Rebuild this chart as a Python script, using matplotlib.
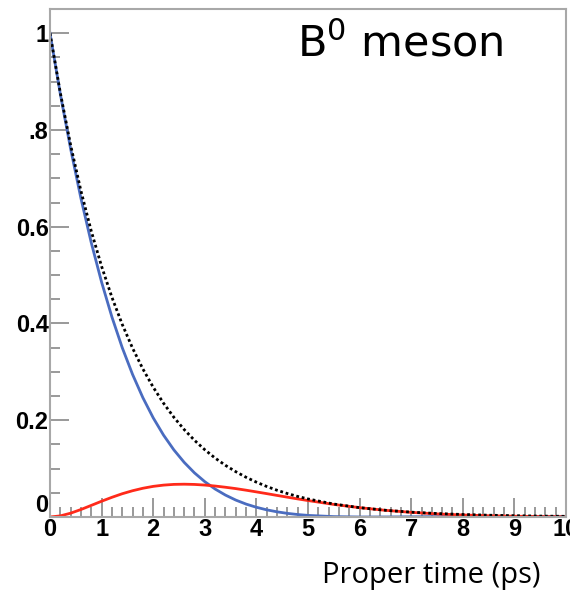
import numpy as np
import matplotlib.pyplot as plt
from matplotlib.ticker import MultipleLocator

# proper time (ps)
t = [0, 0.2, 0.4, 0.6, 0.8, 1.0, 1.2, 1.4, 1.6, 1.8, 2.0, 2.2, 2.4, 2.6, 2.8,
     3.0, 3.2, 3.4, 3.6, 3.8, 4.0, 4.2, 4.4, 4.6, 4.8, 5.0, 5.5, 6.0, 6.5,
     7.0, 7.5, 8.0, 8.5, 9.0, 9.5, 10.0]

# total decay (dotted black)
total = [1.0, 0.8767, 0.7686, 0.6738, 0.5908, 0.5180, 0.4541, 0.3981, 0.3490,
         0.3060, 0.2683, 0.2352, 0.2062, 0.1808, 0.1585, 0.1390, 0.1218, 0.1068,
         0.0937, 0.0821, 0.0720, 0.0631, 0.0553, 0.0485, 0.0425, 0.0373, 0.0268,
         0.0193, 0.0139, 0.0100, 0.0072, 0.0052, 0.0037, 0.0027, 0.0019, 0.0014]

# unmixed (blue)
unmixed = [1.0, 0.8744, 0.7607, 0.6583, 0.5668, 0.4854, 0.4134, 0.3500, 0.2947,
           0.2466, 0.2050, 0.1693, 0.1388, 0.1130, 0.0912, 0.0730, 0.0578, 0.0453,
           0.0350, 0.0267, 0.0201, 0.0148, 0.0107, 0.0075, 0.0051, 0.0033, 0.0008,
           0.0000, 0.0001, 0.0004, 0.0008, 0.0010, 0.0011, 0.0012, 0.0010, 0.0009]

# mixed (red)
mixed = [0.0, 0.0023, 0.0079, 0.0155, 0.0240, 0.0326, 0.0407, 0.0481, 0.0543,
         0.0594, 0.0633, 0.0659, 0.0674, 0.0678, 0.0673, 0.0660, 0.0640, 0.0615,
         0.0587, 0.0554, 0.0519, 0.0483, 0.0446, 0.0410, 0.0374, 0.0340, 0.0260,
         0.0193, 0.0138, 0.0096, 0.0064, 0.0042, 0.0026, 0.0016, 0.0009, 0.0005]

y_ticks = [0, 0.2, 0.4, 0.6, 0.8, 1.0]
y_labels = ["0", "0.2", "0.4", "0.6", ".8", "1"]
x_ticks = list(range(11))
x_labels = [str(v) for v in x_ticks]

fig = plt.figure(figsize=(5.7, 5.98), dpi=100)
ax = fig.add_axes([50 / 570, 81 / 598, 516 / 570, 508 / 598])

ax.plot(t, unmixed, color="#4a6cc0", lw=2.0)
ax.plot(t, mixed, color="#ff2a1a", lw=2.0)
ax.plot(t, total, color="black", lw=2.0, ls=(0, (1, 1)))

ax.set_xlim(0, 10)
ax.set_ylim(0, 1.05)

tick_font = dict(family="Liberation Sans", weight="bold", size=17)
ax.set_xticks(x_ticks)
ax.set_xticklabels(x_labels, **tick_font)
ax.set_yticks(y_ticks)
ax.set_yticklabels(y_labels, **tick_font)
ax.get_yticklabels()[0].set_va("bottom")
ax.xaxis.set_minor_locator(MultipleLocator(0.2))
ax.yaxis.set_minor_locator(MultipleLocator(0.05))
ax.tick_params(which="both", direction="in", color="#888888", width=1.2)
ax.tick_params(which="major", length=14, pad=1)
ax.tick_params(which="minor", length=7)
ax.tick_params(top=False, right=False, which="both")

for s in ax.spines.values():
    s.set_color("#a8a8a8")
    s.set_linewidth(1.5)

ax.text(0.478, 0.93, "B$^0$ meson", transform=ax.transAxes, fontsize=31,
        family="DejaVu Sans", ha="left", va="center")
fig.text(540 / 570, 22 / 598, "Proper time (ps)", fontsize=21,
         family="Open Sans", ha="right", va="center")

fig.savefig("out.png", dpi=100)
